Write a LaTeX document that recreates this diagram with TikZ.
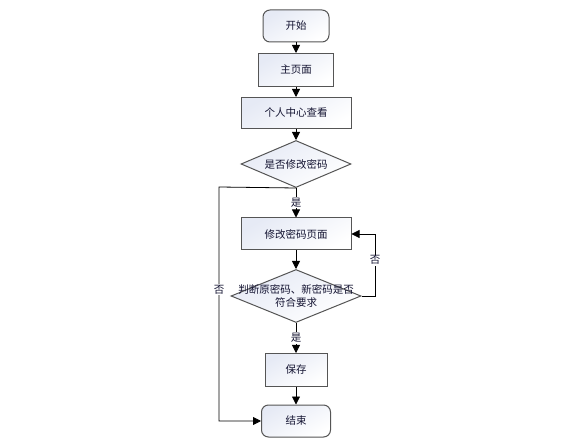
\documentclass[tikz,border=0pt]{standalone}
\usepackage{fontspec}
\newfontfamily\cjk{Noto Sans CJK SC}
\usetikzlibrary{shapes.geometric,arrows.meta}
\definecolor{boxfill}{RGB}{230,234,245}
\definecolor{boxline}{RGB}{85,85,85}
\definecolor{txt}{RGB}{20,20,50}

\begin{document}
\begin{tikzpicture}[font=\cjk\fontsize{10.5}{13}\selectfont, text=txt,
  box/.style = {draw=boxline, line width=1pt, top color=boxfill, bottom color=white, shading angle=30, inner sep=0pt},
  startstop/.style = {box, rectangle, rounded corners=7pt, minimum height=32pt},
  process/.style = {box, rectangle, minimum height=32pt},
  decision/.style = {box, diamond, align=center},
  arrow/.style = {line width=0.8pt, -{Triangle[width=8pt,length=8pt]}},
  note/.style = {fill=white, inner sep=1pt}]
			\useasboundingbox (0,0) rectangle (565pt,-438pt);
			\node[startstop, minimum width=66pt] (start) at (296pt,-26pt) {开始};
			\node[process, minimum width=75pt, minimum height=33pt] (main) [below of=start, node distance=44pt] {主页面};
			\node[process, minimum width=110pt, minimum height=31pt] (center) [below of=main, node distance=43pt] {个人中心查看};
			\node[decision, minimum width=110pt, minimum height=47pt] (q1) [below of=center, node distance=51pt] {\makebox[0pt]{是否修改密码}};
			\node[process, minimum width=110pt] (edit) [below of=q1, node distance=70pt] {修改密码页面};
			\node[decision, minimum width=130pt, minimum height=53pt] (q2) [below of=edit, node distance=62pt] {\makebox[0pt]{判断原密码、新密码是否}\\\makebox[0pt]{符合要求}};
			\node[process, minimum width=62pt, minimum height=33pt] (save) [below of=q2, node distance=74pt] {保存};
			\node[startstop, minimum width=69pt] (end) [below of=save, node distance=51pt] {结束};
			\coordinate (leftturn) at (219pt,-187pt);
			\coordinate (rightturn) at (375pt,-296pt);
			\draw[arrow] (start) -- (main);
			\draw[arrow] (main) -- (center);
			\draw[arrow] (center) -- (q1);
			\draw[arrow] (q1) -- node[note] {是} (edit);
			\draw[arrow] (edit) -- (q2);
			\draw[arrow] (q2) -- node[note] {是} (save);
			\draw[arrow] (save) -- (end);
			\draw[arrow] (q1.south) -- (leftturn) |- node[note, pos=0.22] {否} (end);
			\draw[arrow] (q2.east) -- (rightturn) |- node[note, pos=0.29] {否} (edit);
		\end{tikzpicture}
\end{document}
